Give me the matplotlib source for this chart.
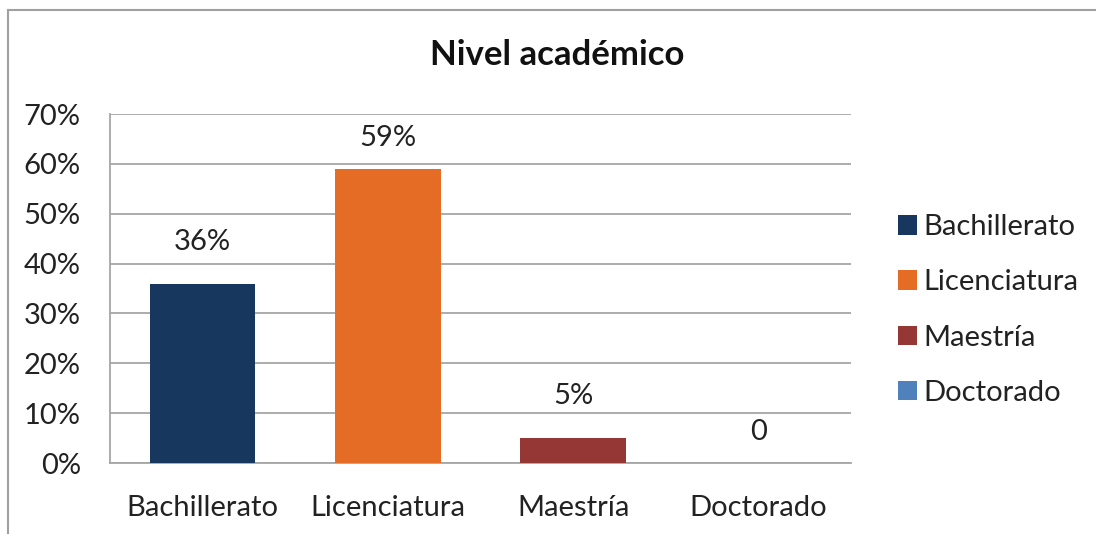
import matplotlib.pyplot as plt
from matplotlib.patches import Patch
from matplotlib.lines import Line2D

categories = ["Bachillerato", "Licenciatura", "Maestría", "Doctorado"]
values = [0.36, 0.59, 0.05, 0.0]
labels = ["36%", "59%", "5%", "0"]
colors = ["#17375E", "#E46C24", "#953735", "#4F81BD"]
yticks = [0, 0.1, 0.2, 0.3, 0.4, 0.5, 0.6, 0.7]

# label offsets above the bars (points), as placed in the original
label_pad = [30, 22, 30, 22]

plt.rcParams['font.family'] = ['Lato', 'DejaVu Sans']
txt = "#222222"
grid = "#A6A6A6"
fs = 21

fig = plt.figure(figsize=(10.96, 5.34), dpi=100)
ax = fig.add_axes([110/1096, 1 - 463/534, 741/1096, 349/534])

x = range(len(categories))
ax.bar(x, values, width=0.57, color=colors, zorder=3)
for i, (v, lab, p) in enumerate(zip(values, labels, label_pad)):
    ax.annotate(lab, (i, v), xytext=(0, p), textcoords='offset points',
                ha='center', va='center', fontsize=fs, color=txt)

ax.set_xlim(-0.5, 3.5)
ax.set_ylim(0, 0.7)
ax.set_yticks(yticks)
ax.set_yticklabels([f"{int(round(t*100))}%" for t in yticks], fontsize=fs, color=txt)
ax.set_xticks(list(x))
ax.set_xticklabels(categories, fontsize=fs, color=txt)
ax.tick_params(axis='both', length=0)
ax.tick_params(axis='y', pad=21)
ax.tick_params(axis='x', pad=23)
ax.yaxis.grid(True, color=grid, lw=1.3, zorder=0)
for s in ['top', 'right']:
    ax.spines[s].set_visible(False)
ax.spines['left'].set_color(grid)
ax.spines['left'].set_linewidth(1.3)
ax.spines['bottom'].set_color(grid)
ax.spines['bottom'].set_linewidth(1.3)

fig.text(557/1096, 1 - 55/534, "Nivel académico", ha='center', va='center',
         fontsize=25, fontweight='bold', color="#111111")

handles = [Patch(facecolor=c, edgecolor='none') for c in colors]
fig.legend(handles, categories, loc='center left', bbox_to_anchor=(872/1096, 1 - 310/534),
           frameon=False, fontsize=fs, labelcolor=txt, handlelength=0.65, handleheight=0.65,
           handletextpad=0.2, labelspacing=1.0)

# outer chart border (only top and left visible in the crop)
fig.add_artist(Line2D([8/1096, 8/1096], [0, 1 - 10/534], color="#A0A0A0", lw=1.5,
                      transform=fig.transFigure))
fig.add_artist(Line2D([8/1096, 1], [1 - 10/534, 1 - 10/534], color="#A0A0A0", lw=1.5,
                      transform=fig.transFigure))

fig.savefig("out.png", dpi=100)
